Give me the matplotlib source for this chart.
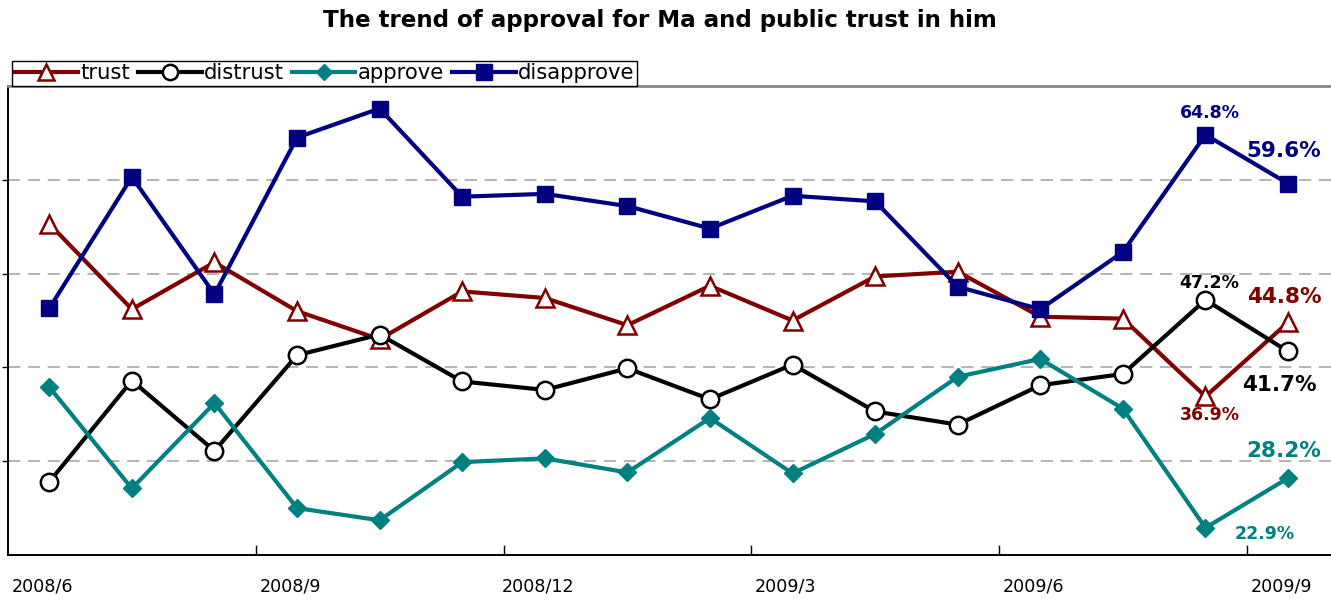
import matplotlib
matplotlib.use("Agg")
import matplotlib.pyplot as plt
from matplotlib.lines import Line2D

months = ["2008/6", "", "", "2008/9", "", "", "2008/12", "", "", "2009/3", "", "",
          "2009/6", "", "", "2009/9"]
tick_labels = ["2008/6", "2008/9", "2008/12", "2009/3", "2009/6", "2009/9"]

trust = [55.3, 46.2, 51.2, 46.0, 43.0, 48.1, 47.4, 44.5, 48.7, 45.0, 49.7, 50.2, 45.4, 45.2, 36.9, 44.8]
distrust = [27.8, 38.6, 31.1, 41.3, 43.5, 38.5, 37.6, 39.9, 36.6, 40.3, 35.3, 33.9, 38.1, 39.3, 47.2, 41.7]
approve = [37.9, 27.1, 36.2, 25.0, 23.7, 29.9, 30.3, 28.8, 34.6, 28.7, 32.9, 39.0, 40.9, 35.6, 22.9, 28.2]
disapprove = [46.3, 60.3, 47.8, 64.5, 67.6, 58.2, 58.5, 57.2, 54.8, 58.3, 57.7, 48.6, 46.2, 52.3, 64.8, 59.6]

C_TRUST = "#800000"
C_DIST = "#000000"
C_APP = "#008080"
C_DIS = "#000080"

plt.rcParams['font.family'] = ['DejaVu Sans']

fig = plt.figure(figsize=(13.31, 6.0), dpi=100)
ax = fig.add_axes([8 / 1331, 1 - 555 / 600, 1 - 8 / 1331, (555 - 86) / 600])

x = list(range(len(months)))
lw = 3.0
ax.plot(x, trust, color=C_TRUST, lw=lw, marker="^", ms=13, mfc="white", mec=C_TRUST, mew=1.8, zorder=3, label="trust")
ax.plot(x, distrust, color=C_DIST, lw=lw, marker="o", ms=12.5, mfc="white", mec=C_DIST, mew=1.8, zorder=3, label="distrust")
ax.plot(x, approve, color=C_APP, lw=lw, marker="D", ms=9, mfc=C_APP, mec=C_APP, zorder=3, label="approve")
ax.plot(x, disapprove, color=C_DIS, lw=lw, marker="s", ms=12, mfc=C_DIS, mec=C_DIS, zorder=3, label="disapprove")

ax.set_xlim(-0.5, 15.52)
ax.set_ylim(20, 70)

for gy in [30, 40, 50, 60]:
    ax.axhline(gy, color="#a0a0a0", lw=1.1, ls=(0, (8, 5)), zorder=1)

ax.set_yticks([30, 40, 50, 60])
ax.set_yticklabels([])
ax.tick_params(axis="y", direction="out", length=4, width=1, color="black")

ax.set_xticks([2.5, 5.5, 8.5, 11.5, 14.5])
ax.set_xticklabels([])
ax.tick_params(axis="x", which="major", direction="in", length=7, width=1)
ax.set_xticks([i - 0.08 for i, m in enumerate(months) if m], minor=True)
ax.set_xticklabels(tick_labels, minor=True, fontsize=12.6)
ax.tick_params(axis="x", which="minor", length=0, pad=16)

for s in ["left", "bottom"]:
    ax.spines[s].set_color("black")
    ax.spines[s].set_linewidth(1.4)
ax.spines["top"].set_color("#888888")
ax.spines["top"].set_linewidth(2)
ax.spines["right"].set_visible(False)

# annotations
ann = [
    (14, 64.8, "64.8%", C_DIS, 12.5, 0.05, 2.3),
    (15, 59.6, "59.6%", C_DIS, 15.5, -0.05, 3.5),
    (14, 47.2, "47.2%", C_DIST, 12.5, 0.05, 1.8),
    (15, 44.8, "44.8%", C_TRUST, 15.5, -0.05, 2.7),
    (15, 41.7, "41.7%", C_DIST, 15.5, -0.1, -3.6),
    (14, 36.9, "36.9%", C_TRUST, 12.5, 0.05, -2.0),
    (15, 28.2, "28.2%", C_APP, 15.5, -0.05, 2.9),
    (14, 22.9, "22.9%", C_APP, 12.5, 0.72, -0.7),
]
for xi, yv, txt, col, fs, dx, dy in ann:
    ax.text(xi + dx, yv + dy, txt, color=col, fontsize=fs, fontweight="bold",
            ha="center", va="center", zorder=4)

fig.text(660 / 1331, 1 - 21 / 600, "The trend of approval for Ma and public trust in him",
         ha="center", va="center", fontsize=16.6, fontweight="bold")

handles = [
    Line2D([], [], color=C_TRUST, lw=lw, marker="^", ms=12, mfc="white", mec=C_TRUST, mew=1.8),
    Line2D([], [], color=C_DIST, lw=lw, marker="o", ms=11, mfc="white", mec=C_DIST, mew=1.8),
    Line2D([], [], color=C_APP, lw=lw, marker="D", ms=8.5, mfc=C_APP, mec=C_APP),
    Line2D([], [], color=C_DIS, lw=lw, marker="s", ms=11, mfc=C_DIS, mec=C_DIS),
]
leg = fig.legend(handles, ["trust", "distrust", "approve", "disapprove"], ncol=4,
                 loc="lower left", bbox_to_anchor=(12 / 1331, 1 - 86 / 600),
                 fontsize=15.2, frameon=True, fancybox=False, framealpha=1,
                 edgecolor="black", borderpad=0.12, handlelength=3.0,
                 handletextpad=0.1, columnspacing=0.4, borderaxespad=0)
leg.get_frame().set_linewidth(1.0)

fig.savefig("out.png", dpi=100)
